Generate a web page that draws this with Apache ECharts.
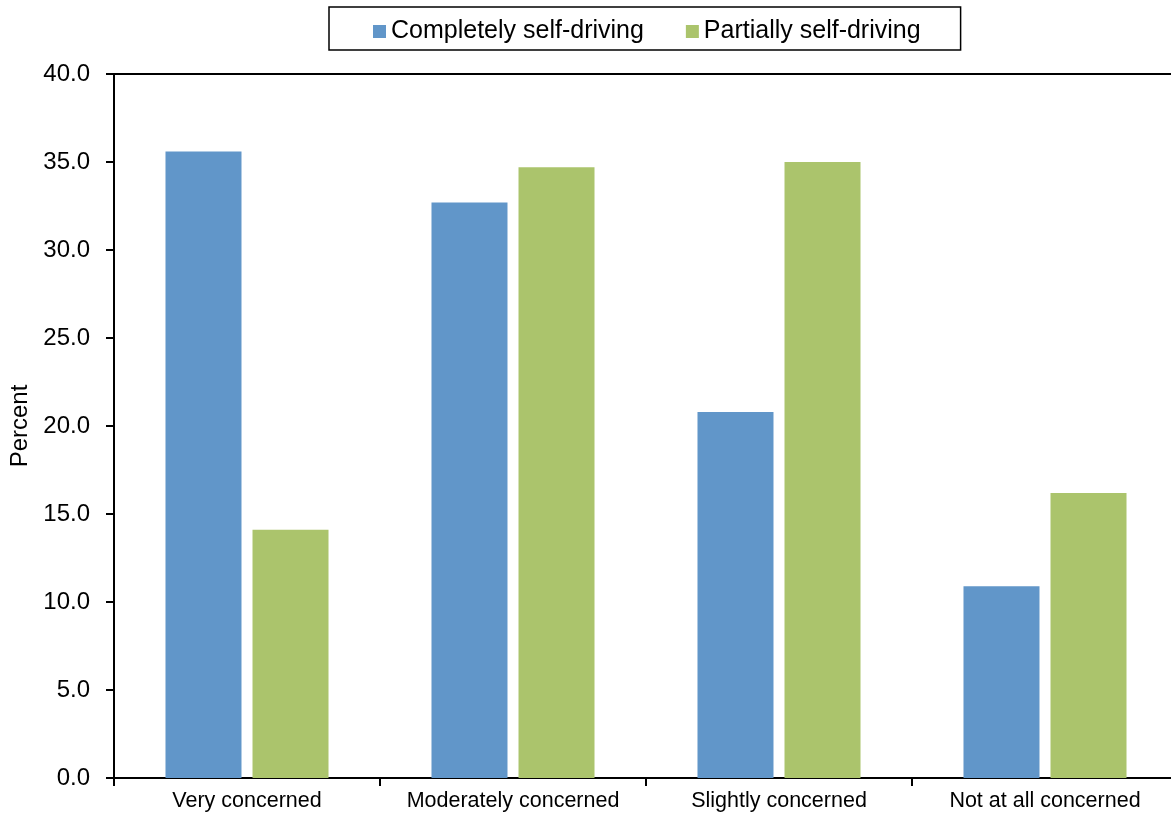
<!DOCTYPE html>
<html>
<head>
<meta charset="utf-8">
<script src="https://cdn.jsdelivr.net/npm/echarts@6/dist/echarts.min.js"></script>
<style>
html,body{margin:0;padding:0;background:#fff;}
#chart{width:1171px;height:816px;}
</style>
</head>
<body>
<div id="chart"></div>
<script>
const categories = ['Very concerned', 'Moderately concerned', 'Slightly concerned', 'Not at all concerned'];
const completely = [35.6, 32.7, 20.8, 10.9];
const partially = [14.1, 34.7, 35.0, 16.2];
const seriesNames = ['Completely self-driving', 'Partially self-driving'];

const chart = echarts.init(document.getElementById('chart'), null, {renderer: 'canvas'});
const font = 'Liberation Sans, Arial, sans-serif';
chart.setOption({
  animation: false,
  backgroundColor: '#ffffff',
  textStyle: {fontFamily: font},
  legend: {
    left: 329, top: 7,
    data: seriesNames,
    icon: 'rect',
    itemWidth: 13, itemHeight: 13,
    itemGap: 42,
    itemTextGap: 6,
    borderColor: '#000', borderWidth: 1.5,
    padding: [12, 40, 6, 44],
    textStyle: {fontSize: 25, color: '#000', fontFamily: font}
  },
  grid: {
    left: 114, top: 74, width: 1064, height: 704,
    outerBoundsMode: 'none', containLabel: false,
    show: true, borderColor: '#000', borderWidth: 2, backgroundColor: 'transparent'
  },
  xAxis: {
    type: 'category',
    data: categories,
    axisLine: {lineStyle: {color: '#000', width: 2}},
    axisTick: {show: true, length: 8, lineStyle: {color: '#000', width: 2}},
    axisLabel: {color: '#000', fontSize: 21.5, margin: 12, interval: 0, fontFamily: font}
  },
  yAxis: {
    type: 'value',
    min: 0, max: 40, interval: 5,
    name: 'Percent',
    nameLocation: 'middle',
    nameGap: 79,
    nameTextStyle: {color: '#000', fontSize: 24, fontFamily: font},
    axisLine: {show: true, lineStyle: {color: '#000', width: 2}},
    axisTick: {show: true, length: 8, lineStyle: {color: '#000', width: 2}},
    splitLine: {show: false},
    axisLabel: {color: '#000', fontSize: 24, margin: 24, fontFamily: font,
      formatter: v => v.toFixed(1)}
  },
  series: [
    {name: seriesNames[0], type: 'bar', data: completely, barWidth: 76, barGap: '14.5%',
      itemStyle: {color: '#6196c9'}},
    {name: seriesNames[1], type: 'bar', data: partially, barWidth: 76,
      itemStyle: {color: '#abc46c'}}
  ]
});
</script>
</body>
</html>
